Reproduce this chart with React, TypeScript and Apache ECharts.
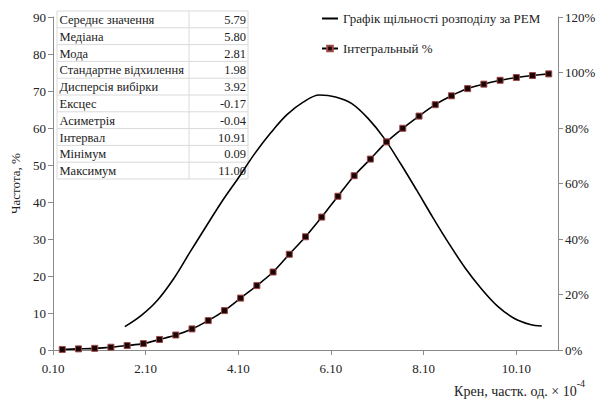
import React, { useEffect, useRef } from "react";
import * as echarts from "echarts";

const integralX = [0.30, 0.65, 1.00, 1.35, 1.70, 2.05, 2.40, 2.75, 3.10, 3.45, 3.80, 4.15, 4.50, 4.85, 5.20, 5.55, 5.90, 6.25, 6.60, 6.95, 7.30, 7.65, 8.00, 8.35, 8.70, 9.05, 9.40, 9.75, 10.10, 10.45, 10.80];
const integralPct = [0.2, 0.4, 0.6, 1.0, 1.6, 2.3, 3.8, 5.4, 7.6, 10.6, 14.2, 18.7, 23.2, 28.1, 34.5, 40.8, 47.9, 55.4, 62.8, 68.8, 75.0, 79.9, 84.3, 88.4, 91.6, 94.2, 95.8, 97.2, 98.2, 98.9, 99.5];

const densityX = [1.65, 2.00, 2.35, 2.70, 3.05, 3.40, 3.75, 4.10, 4.45, 4.80, 5.15, 5.50, 5.85, 6.20, 6.55, 6.90, 7.25, 7.60, 7.95, 8.30, 8.65, 9.00, 9.35, 9.70, 10.05, 10.40, 10.65];
const densityY = [6.3, 9.3, 13.4, 19.2, 26.3, 33.3, 40.2, 46.5, 53.0, 58.7, 63.6, 67.0, 68.9, 68.4, 66.6, 62.6, 57.2, 50.4, 43.2, 35.8, 28.7, 22.1, 16.5, 11.8, 8.6, 6.9, 6.5];

const xTickValues = [0.1, 2.1, 4.1, 6.1, 8.1, 10.1];

const statLabels = ["Середнє значення", "Медіана", "Мода", "Стандартне відхилення", "Дисперсія вибірки", "Ексцес", "Асиметрія", "Інтервал", "Мінімум", "Максимум"];
const statValues = ["5.79", "5.80", "2.81", "1.98", "3.92", "-0.17", "-0.04", "10.91", "0.09", "11.00"];

const seriesNames = ["Графік щільності розподілу за PEM", "Інтегральный %"];

const FONT = "Liberation Serif";

export default function App() {
  const ref = useRef<HTMLDivElement>(null);
  useEffect(() => {
    if (!ref.current) return;
    const chart = echarts.init(ref.current, undefined, { renderer: "svg" });

    const tLeft = 57, tMid = 189, tRight = 248, tTop = 11, rowH = 16.8;
    const tableEls: any[] = [];
    tableEls.push({ type: "rect", shape: { x: tLeft, y: tTop, width: tRight - tLeft, height: rowH * statLabels.length }, style: { fill: "#fff", stroke: "#dadada", lineWidth: 1 } });
    tableEls.push({ type: "line", shape: { x1: tMid, y1: tTop, x2: tMid, y2: tTop + rowH * statLabels.length }, style: { stroke: "#dadada", lineWidth: 1 } });
    statLabels.forEach((lab, i) => {
      const y0 = tTop + rowH * i;
      if (i > 0) tableEls.push({ type: "line", shape: { x1: tLeft, y1: y0, x2: tRight, y2: y0 }, style: { stroke: "#dadada", lineWidth: 1 } });
      tableEls.push({ type: "text", x: tLeft + 2.5, y: y0 + rowH / 2 + 0.5, style: { text: lab, font: `12.5px '${FONT}'`, fill: "#222", verticalAlign: "middle", align: "left" } });
      tableEls.push({ type: "text", x: tRight - 2, y: y0 + rowH / 2 + 0.5, style: { text: statValues[i], font: `12.5px '${FONT}'`, fill: "#222", verticalAlign: "middle", align: "right" } });
    });

    chart.setOption({
      animation: false,
      textStyle: { fontFamily: FONT },
      grid: { left: 53, right: 44, top: 17, bottom: 51 },
      legend: {
        orient: "vertical",
        left: 316,
        top: 7,
        itemGap: 17,
        itemWidth: 16,
        itemHeight: 7,
        textStyle: { fontFamily: FONT, fontSize: 13, color: "#222" },
        data: [
          { name: seriesNames[0], itemStyle: { color: "rgba(0,0,0,0)", borderColor: "rgba(0,0,0,0)", borderWidth: 0 } },
          { name: seriesNames[1] },
        ],
      },
      xAxis: {
        type: "value",
        min: 0.1,
        max: 11.0,
        axisLine: { lineStyle: { color: "#8a8a8a" } },
        axisTick: { show: true, length: 5, lineStyle: { color: "#8a8a8a" }, customValues: xTickValues },
        axisLabel: { fontFamily: FONT, fontSize: 13, color: "#222", margin: 12, customValues: xTickValues, formatter: (v: number) => v.toFixed(2) },
        splitLine: { show: false },
      },
      yAxis: [
        {
          type: "value",
          min: 0,
          max: 90,
          interval: 10,
          name: "Частота, %",
          nameLocation: "middle",
          nameGap: 28,
          nameRotate: 90,
          nameTextStyle: { fontFamily: FONT, fontSize: 13, color: "#222" },
          axisLine: { show: true, lineStyle: { color: "#8a8a8a" } },
          axisTick: { show: true, length: 5, lineStyle: { color: "#8a8a8a" } },
          axisLabel: { fontFamily: FONT, fontSize: 13, color: "#222", margin: 7 },
          splitLine: { show: false },
        },
        {
          type: "value",
          min: 0,
          max: 120,
          interval: 20,
          position: "right",
          axisLine: { show: true, lineStyle: { color: "#8a8a8a" } },
          axisTick: { show: true, length: 5, lineStyle: { color: "#8a8a8a" } },
          axisLabel: { fontFamily: FONT, fontSize: 13, color: "#222", margin: 7, formatter: "{value}%" },
          splitLine: { show: false },
        },
      ],
      series: [
        {
          name: seriesNames[0],
          type: "line",
          yAxisIndex: 0,
          smooth: 0.35,
          symbol: "none",
          color: "#000",
          lineStyle: { color: "#000", width: 1.6 },
          data: densityX.map((x, i) => [x, densityY[i]]),
        },
        {
          name: seriesNames[1],
          type: "line",
          yAxisIndex: 1,
          smooth: 0.3,
          symbol: "rect",
          symbolSize: 6,
          color: "#1a0404",
          itemStyle: { color: "#1a0404", borderColor: "#a04848", borderWidth: 1 },
          lineStyle: { color: "#000", width: 1.6 },
          data: integralX.map((x, i) => [x, integralPct[i]]),
        },
      ],
      graphic: [
        ...tableEls,
        {
          type: "text",
          right: 17,
          top: 378,
          style: {
            text: "{a|Крен, частк. од. × 10}{s|-4}",
            rich: {
              a: { fontFamily: FONT, fontSize: 14, fill: "#222", lineHeight: 20, verticalAlign: "bottom" },
              s: { fontFamily: FONT, fontSize: 10, fill: "#222", lineHeight: 20, verticalAlign: "top" },
            },
          },
        },
      ],
    });
    return () => chart.dispose();
  }, []);
  return <div ref={ref} style={{ position: "absolute", left: 0, top: 0, width: 602, height: 401 }} />;
}
